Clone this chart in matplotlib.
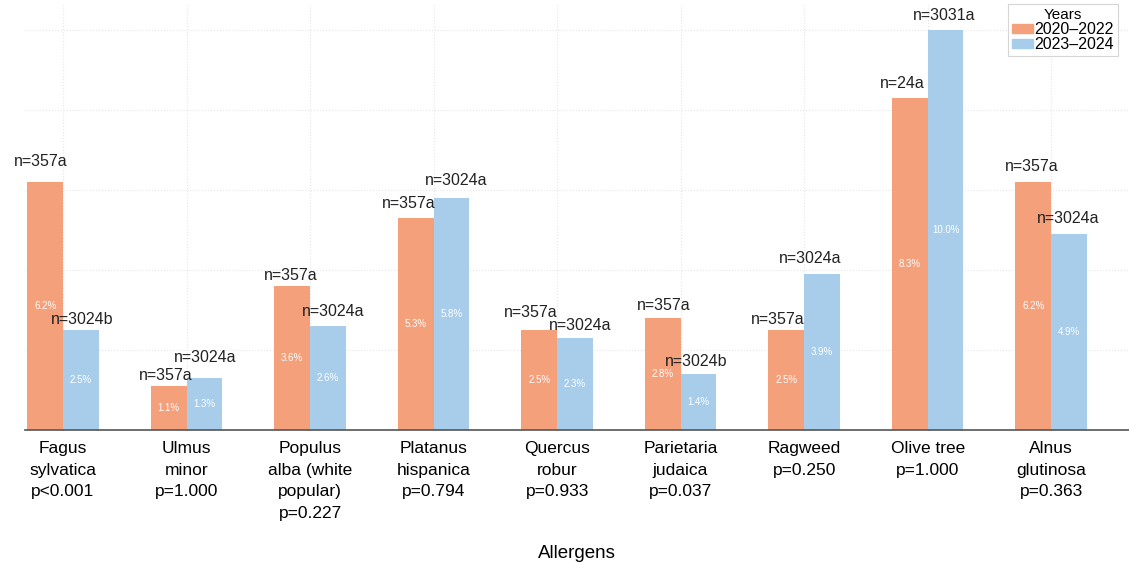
import numpy as np
import matplotlib.pyplot as plt
from matplotlib.patches import Patch

plt.rcParams['font.family'] = ['Liberation Sans', 'DejaVu Sans']

allergens = ['Fagus\nsylvatica\np<0.001', 'Ulmus\nminor\np=1.000',
             'Populus\nalba (white\npopular)\np=0.227', 'Platanus\nhispanica\np=0.794',
             'Quercus\nrobur\np=0.933', 'Parietaria\njudaica\np=0.037',
             'Ragweed\np=0.250', 'Olive tree\np=1.000', 'Alnus\nglutinosa\np=0.363']
pct_2020 = [6.2, 1.1, 3.6, 5.3, 2.5, 2.8, 2.5, 8.3, 6.2]
pct_2023 = [2.5, 1.3, 2.6, 5.8, 2.3, 1.4, 3.9, 10.0, 4.9]
n_2020 = ['n=357a', 'n=357a', 'n=357a', 'n=357a', 'n=357a', 'n=357a', 'n=357a', 'n=24a', 'n=357a']
n_2023 = ['n=3024b', 'n=3024a', 'n=3024a', 'n=3024a', 'n=3024a', 'n=3024b', 'n=3024a', 'n=3031a', 'n=3024a']
years = ['2020\u20132022', '2023\u20132024']

# label nudges (dx, dy in pixels) so neighbouring n= labels don't collide
nudge_2020 = [(-4, 20), (-3, 10), (-1, 10), (-7, 14), (-8, 17), (1, 12), (-9, 10), (-7, 14), (-2, 15)]
nudge_2023 = [(1, 10), (1, 20), (5, 14), (5, 17), (5, 12), (-2, 12), (-12, 15), (-1, 14), (-1, 15)]

c_orange = '#F4A07B'
c_blue = '#A7CDEB'

fig = plt.figure(figsize=(11.29, 5.63), dpi=100)
ax = fig.add_axes([25 / 1129, 133 / 563, 1104 / 1129, 425 / 563])

x = np.arange(len(allergens))
w = 0.29
b1 = ax.bar(x - w / 2, pct_2020, w, color=c_orange, zorder=2)
b2 = ax.bar(x + w / 2, pct_2023, w, color=c_blue, zorder=2)

px = 72 / 100
for bars, vals, ns, nud in [(b1, pct_2020, n_2020, nudge_2020), (b2, pct_2023, n_2023, nudge_2023)]:
    for rect, v, n, (dx, dy) in zip(bars, vals, ns, nud):
        cx = rect.get_x() + rect.get_width() / 2
        ax.text(cx, v / 2, f'{v:.1f}%', color='white', fontsize=7,
                ha='center', va='center', zorder=3)
        ax.annotate(n, (cx, v), xytext=(dx * px, dy * px), textcoords='offset points',
                    ha='center', va='center', fontsize=11.5, color='#222222', zorder=3)

ax.set_xlim(-0.308, 8.63)
ax.set_ylim(0, 10.62)
ax.set_yticks([2, 4, 6, 8, 10])
ax.set_yticklabels([])
ax.tick_params(axis='y', length=0)
ax.set_xticks(x)
ax.set_xticklabels(allergens, fontsize=12.5, linespacing=1.55)
ax.tick_params(axis='x', length=3, direction='in', color='#555555', pad=8)
ax.grid(True, color='#e6e6e6', linewidth=0.8, linestyle=':', zorder=0)
ax.set_axisbelow(True)
for s in ['left', 'right', 'top']:
    ax.spines[s].set_visible(False)
ax.spines['bottom'].set_color('#555555')
ax.spines['bottom'].set_linewidth(1.2)

ax.set_xlabel('Allergens', fontsize=13.5, labelpad=17)

handles = [Patch(color=c_orange), Patch(color=c_blue)]
leg = fig.legend(handles, years, title='Years', loc='upper left',
                 bbox_to_anchor=(1008 / 1129, 0.993), fontsize=11.5, title_fontsize=11,
                 handlelength=1.3, handleheight=0.45, handletextpad=0.1,
                 labelspacing=0.0, borderpad=0.25, borderaxespad=0,
                 frameon=True, fancybox=False)
leg.get_frame().set_edgecolor('#cccccc')
leg.get_frame().set_linewidth(0.8)

fig.savefig('out.png', dpi=100)
